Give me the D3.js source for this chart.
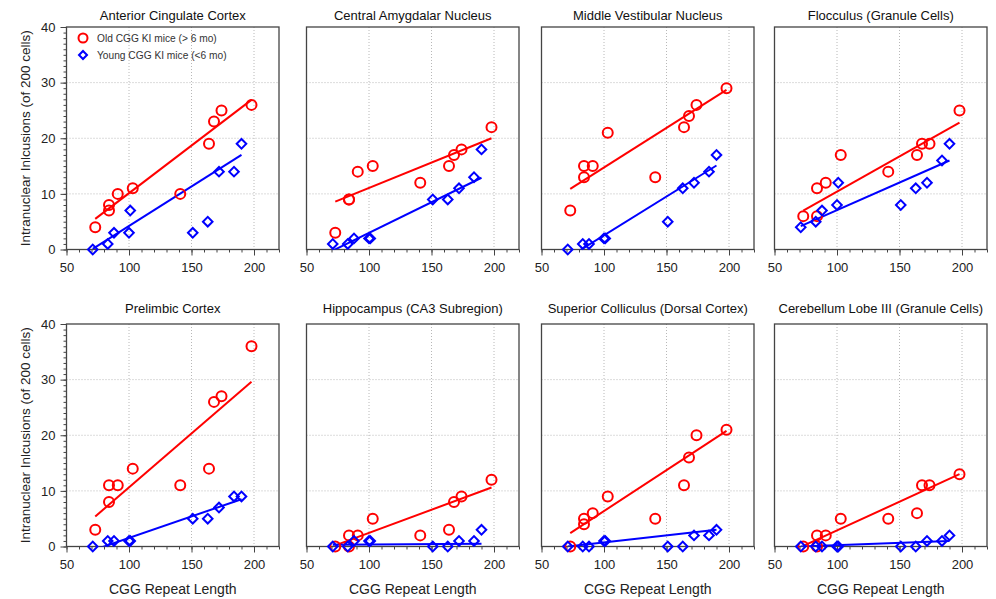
<!DOCTYPE html>
<html>
<head>
<meta charset="utf-8">
<script src="https://cdn.jsdelivr.net/npm/d3@7"></script>
<style>
  body { margin: 0; background: #fff; }
  svg { font-family: "Liberation Sans", Arial, sans-serif; }
</style>
</head>
<body>
<svg id="chart" width="996" height="599"></svg>
<script>
// panel titles, row by row
const panelTitles = [
  "Anterior Cingulate Cortex", "Central Amygdalar Nucleus", "Middle Vestibular Nucleus", "Flocculus (Granule Cells)",
  "Prelimbic Cortex", "Hippocampus (CA3 Subregion)", "Superior Colliculus (Dorsal Cortex)", "Cerebellum Lobe III (Granule Cells)"
];

// CGG repeat length of each mouse
const oldRepeats = [73, 84, 84, 91, 103, 141, 164, 168, 174, 198];
const youngRepeats = [71, 83, 88, 100, 101, 151, 163, 172, 184, 190];

// inclusions (of 200 cells), one list per panel
const oldInclusions = [
  [4, 7, 8, 10, 11, 10, 19, 23, 25, 26],
  [3, 9, 9, 14, 15, 12, 15, 17, 18, 22],
  [7, 13, 15, 15, 21, 13, 22, 24, 26, 29],
  [6, 6, 11, 12, 17, 14, 17, 19, 19, 25],
  [3, 8, 11, 11, 14, 11, 14, 26, 27, 36],
  [0, 0, 2, 2, 5, 2, 3, 8, 9, 12],
  [0, 4, 5, 6, 9, 5, 11, 16, 20, 21],
  [0, 0, 2, 2, 5, 5, 6, 11, 11, 13]
];
const youngInclusions = [
  [0, 1, 3, 3, 7, 3, 5, 14, 14, 19],
  [1, 1, 2, 2, 2, 9, 9, 11, 13, 18],
  [0, 1, 1, 2, 2, 5, 11, 12, 14, 17],
  [4, 5, 7, 8, 12, 8, 11, 12, 16, 19],
  [0, 1, 1, 1, 1, 5, 5, 7, 9, 9],
  [0, 0, 1, 1, 1, 0, 0, 1, 1, 3],
  [0, 0, 0, 1, 1, 0, 0, 2, 2, 3],
  [0, 0, 0, 0, 0, 0, 0, 1, 1, 2]
];

// fitted line values at the first and last repeat length
const oldFit = [[5.5, 26.9], [8.6, 20.0], [10.9, 28.7], [7.0, 22.8], [5.4, 29.6], [0.2, 10.6], [2.4, 20.8], [0.1, 13.0]];
const youngFit = [[0.1, 17.0], [-0.2, 12.9], [-1.5, 15.1], [4.2, 16.0], [-0.7, 8.5], [0.3, 0.5], [0.0, 3.0], [0.0, 1.0]];

const xTicks = [50, 100, 150, 200];
const yTicks = [0, 10, 20, 30, 40];
const legendLabels = ["Old CGG KI mice (> 6 mo)", "Young CGG KI mice (<6 mo)"];

// layout
const colLeft = [66.5, 306.5, 541.5, 774.5];
const rowTop = [27, 324];
const titleGap = [7, 11];
const pw = 212.5, ph = 222.5;
const red = '#ff0000', blue = '#0000ff';
const axisColor = '#444';

const svg = d3.select('#chart');
const diamond = d3.symbol(d3.symbolSquare, 46);

panelTitles.forEach((title, i) => {
  const row = Math.floor(i / 4), col = i % 4;
  const g = svg.append('g')
    .attr('transform', `translate(${colLeft[col]},${rowTop[row]})`);

  const x = d3.scaleLinear().domain([50, 220]).range([0, pw]);
  const y = d3.scaleLinear().domain([0, 40]).range([ph, 0]);

  g.append('clipPath').attr('id', 'clip' + i)
    .append('rect').attr('width', pw).attr('height', ph);

  // dotted grid
  g.selectAll('.gx').data(xTicks.slice(1)).enter().append('line')
    .attr('x1', d => x(d)).attr('x2', d => x(d))
    .attr('y1', 0).attr('y2', ph)
    .attr('stroke', '#b8b8b8').attr('stroke-dasharray', '1,2');
  g.selectAll('.gy').data(yTicks.slice(1, -1)).enter().append('line')
    .attr('y1', d => y(d)).attr('y2', d => y(d))
    .attr('x1', 0).attr('x2', pw)
    .attr('stroke', '#b8b8b8').attr('stroke-dasharray', '1,2');

  // bottom axis: minor + major ticks
  const minorX = g.append('g').attr('transform', `translate(0,${ph})`)
    .call(d3.axisBottom(x).tickValues(d3.range(50, 221, 10)).tickSize(3).tickSizeOuter(0).tickFormat(''));
  const majorX = g.append('g').attr('transform', `translate(0,${ph})`)
    .call(d3.axisBottom(x).tickValues(xTicks).tickSize(6).tickSizeOuter(0).tickPadding(7));
  [minorX, majorX].forEach(a => {
    a.select('.domain').remove();
    a.selectAll('line').attr('stroke', axisColor);
  });
  majorX.selectAll('text').attr('font-size', 13).attr('fill', '#222')
    .attr('font-family', '"Liberation Sans", Arial, sans-serif');

  // left axis ticks only on first column
  if (col === 0) {
    const minorY = g.append('g')
      .call(d3.axisLeft(y).tickValues(d3.range(0, 41, 1)).tickSize(3).tickSizeOuter(0).tickFormat(''));
    const majorY = g.append('g')
      .call(d3.axisLeft(y).tickValues(yTicks).tickSize(6).tickSizeOuter(0).tickPadding(5));
    [minorY, majorY].forEach(a => {
      a.select('.domain').remove();
      a.selectAll('line').attr('stroke', axisColor);
    });
    majorY.selectAll('text').attr('font-size', 13).attr('fill', '#222')
      .attr('font-family', '"Liberation Sans", Arial, sans-serif');

    svg.append('text')
      .attr('transform', `translate(25,${rowTop[row] + ph / 2}) rotate(-90)`)
      .attr('text-anchor', 'middle')
      .attr('dy', '0.35em')
      .attr('font-size', 13.5)
      .attr('fill', '#222')
      .text('Intranuclear Inlcusions (of 200 cells)');
  }

  // frame
  g.append('rect')
    .attr('width', pw).attr('height', ph)
    .attr('fill', 'none').attr('stroke', axisColor).attr('stroke-width', 1.3);

  // title
  g.append('text')
    .attr('x', pw / 2).attr('y', -titleGap[row])
    .attr('text-anchor', 'middle')
    .attr('font-size', 13)
    .attr('fill', '#111')
    .text(title);

  if (row === 1) {
    g.append('text')
      .attr('x', pw / 2).attr('y', ph + 47)
      .attr('text-anchor', 'middle')
      .attr('font-size', 14)
      .attr('fill', '#222')
      .text('CGG Repeat Length');
  }

  const plot = g.append('g').attr('clip-path', `url(#clip${i})`);

  // old mice: fit line + circles
  plot.append('line')
    .attr('x1', x(d3.min(oldRepeats))).attr('y1', y(oldFit[i][0]))
    .attr('x2', x(d3.max(oldRepeats))).attr('y2', y(oldFit[i][1]))
    .attr('stroke', red).attr('stroke-width', 2);
  g.selectAll('.old').data(oldRepeats).enter().append('circle')
    .attr('cx', d => x(d))
    .attr('cy', (d, k) => y(oldInclusions[i][k]))
    .attr('r', 5)
    .attr('fill', 'none').attr('stroke', red).attr('stroke-width', 2);

  // young mice: fit line + diamonds
  plot.append('line')
    .attr('x1', x(d3.min(youngRepeats))).attr('y1', y(youngFit[i][0]))
    .attr('x2', x(d3.max(youngRepeats))).attr('y2', y(youngFit[i][1]))
    .attr('stroke', blue).attr('stroke-width', 2);
  g.selectAll('.young').data(youngRepeats).enter().append('path')
    .attr('d', diamond)
    .attr('transform', (d, k) => `translate(${x(d)},${y(youngInclusions[i][k])}) rotate(45)`)
    .attr('fill', 'none').attr('stroke', blue).attr('stroke-width', 2);

  // legend in first panel
  if (i === 0) {
    const lg = g.append('g').attr('transform', 'translate(16.5,11)');
    lg.append('circle').attr('cx', 0).attr('cy', 0).attr('r', 4.5)
      .attr('fill', 'none').attr('stroke', red).attr('stroke-width', 2);
    lg.append('path').attr('d', d3.symbol(d3.symbolSquare, 32))
      .attr('transform', 'translate(0,17) rotate(45)')
      .attr('fill', 'none').attr('stroke', blue).attr('stroke-width', 2);
    lg.selectAll('text').data(legendLabels).enter().append('text')
      .attr('x', 14).attr('y', (d, k) => k * 17 + 3.5)
      .attr('font-size', 10.2)
      .attr('fill', '#333')
      .text(d => d);
  }
});
</script>
</body>
</html>
